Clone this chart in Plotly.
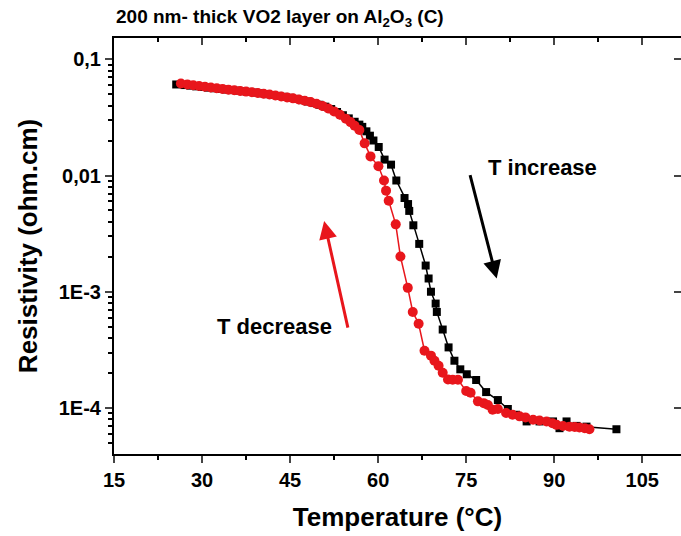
import plotly.graph_objects as go

# T increase (black squares)
t_inc = [25.6, 27.0, 28.0, 29.0, 30.0, 31.0, 32.0, 33.0, 34.0, 35.0, 36.0, 37.0, 38.0, 39.0, 40.0,
         41.0, 42.0, 43.0, 44.0, 45.0, 46.0, 47.0, 48.0, 49.0, 50.0, 51.0, 52.0, 53.0, 54.0, 55.0,
         56.0, 56.8, 57.3, 58.0, 58.6, 59.2, 60.1, 61.1, 62.2, 63.1, 64.5, 65.1, 65.3, 66.0, 67.0,
         68.1, 68.6, 69.0, 69.8, 70.0, 71.0, 72.0, 73.0, 74.0, 75.1, 76.7, 78.4, 80.4, 82.1, 83.5,
         85.3, 87.5, 89.8, 90.9, 92.1, 93.8, 95.5, 100.6]
rho_inc = [0.0607, 0.0600, 0.0593, 0.0585, 0.0578, 0.0570, 0.0563, 0.0556, 0.0549, 0.0543, 0.0537,
           0.0531, 0.0524, 0.0517, 0.0510, 0.0501, 0.0493, 0.0484, 0.0475, 0.0466, 0.0456, 0.0445,
           0.0433, 0.0420, 0.0406, 0.0391, 0.0373, 0.0352, 0.0330, 0.0310, 0.0290, 0.0274, 0.0262,
           0.0240, 0.0220, 0.0200, 0.0176, 0.0137, 0.0124, 0.00906, 0.00640, 0.00568, 0.00496,
           0.00373, 0.00258, 0.00168, 0.00130, 0.00100, 0.000791, 0.000670, 0.000473, 0.000332,
           0.000255, 0.000215, 0.000195, 0.000174, 0.000137, 0.000117, 0.0000980, 0.0000874,
           0.0000766, 0.0000766, 0.0000766, 0.0000670, 0.0000766, 0.0000701, 0.0000691, 0.0000656]

# T decrease (red circles)
t_dec = [26.4, 27.5, 28.5, 29.5, 30.5, 31.5, 32.5, 33.5, 34.5, 35.5, 36.5, 37.5, 38.5, 39.5, 40.5,
         41.5, 42.5, 43.5, 44.5, 45.5, 46.5, 47.5, 48.5, 49.5, 50.5, 51.5, 52.5, 53.5, 54.5, 55.3,
         56.0, 56.8, 57.7, 58.7, 60.05, 61.0, 61.35, 61.8, 63.0, 63.8, 65.05, 65.9, 66.9, 67.9,
         69.0, 69.6, 70.3, 71.0, 71.9, 72.7, 73.6, 75.0, 75.75, 77.0, 78.0, 78.7, 79.5, 80.4, 81.8,
         82.9, 84.1, 85.1, 86.4, 87.5, 88.7, 89.7, 90.4, 91.5, 92.6, 93.5, 94.3, 95.2, 96.0]
rho_dec = [0.0618, 0.0608, 0.0598, 0.0589, 0.0580, 0.0572, 0.0564, 0.0556, 0.0548, 0.0541, 0.0534,
           0.0527, 0.0520, 0.0513, 0.0505, 0.0497, 0.0488, 0.0479, 0.0470, 0.0461, 0.0451, 0.0440,
           0.0428, 0.0414, 0.0397, 0.0378, 0.0356, 0.0333, 0.0308, 0.0288, 0.0268, 0.0246, 0.0189,
           0.0146, 0.0120, 0.00906, 0.00741, 0.00606, 0.00380, 0.00201, 0.00108, 0.000670, 0.000530,
           0.000311, 0.000282, 0.000255, 0.000231, 0.000201, 0.000176, 0.000175, 0.000175, 0.000140,
           0.000135, 0.000114, 0.000110, 0.000106, 0.0000966, 0.0000980, 0.0000905, 0.0000874,
           0.0000847, 0.0000830, 0.0000791, 0.0000780, 0.0000766, 0.0000740, 0.0000716, 0.0000700,
           0.0000691, 0.0000685, 0.0000680, 0.0000670, 0.0000656]

y_major_vals = [1e-4, 1e-3, 1e-2, 1e-1]
y_major_text = ["1E-4", "1E-3", "0,01", "0,1"]
x_major_vals = [15, 30, 45, 60, 75, 90, 105]

title_text = "200 nm- thick VO2 layer on Al<sub>2</sub>O<sub>3</sub> (C)"
x_title = "Temperature (°C)"
y_title = "Resistivity (ohm.cm)"

FONT = "Liberation Sans, Arial, sans-serif"
RED = "#e8161c"

y_minor_vals = [k * 10.0 ** e for e in range(-5, 0) for k in range(2, 10)]
x_minor_vals = [22.5, 37.5, 52.5, 67.5, 82.5, 97.5]

fig = go.Figure()
fig.add_trace(go.Scatter(x=t_inc, y=rho_inc, mode="lines+markers",
                         line=dict(color="black", width=1.5),
                         marker=dict(symbol="square", size=8, color="black"),
                         showlegend=False))
fig.add_trace(go.Scatter(x=t_dec, y=rho_dec, mode="lines+markers",
                         line=dict(color=RED, width=1.5),
                         marker=dict(symbol="circle", size=10, color=RED),
                         showlegend=False))
# invisible trace to host the mirrored top/right axes
fig.add_trace(go.Scatter(x=[None], y=[None], xaxis="x2", yaxis="y2", showlegend=False,
                         hoverinfo="skip"))

xr = [15, 111.6]
yr = [-4.396, -0.817]

fig.update_layout(
    width=681, height=536,
    margin=dict(l=114, r=0, t=38, b=82),
    paper_bgcolor="white", plot_bgcolor="white",
    font=dict(family=FONT, color="black"),
    xaxis=dict(range=xr, tickvals=x_major_vals, ticks="outside", ticklen=7, tickwidth=2,
               showline=True, linecolor="black", linewidth=2, showgrid=False, zeroline=False,
               tickfont=dict(size=20, weight="bold", family=FONT),
               minor=dict(tickvals=x_minor_vals, ticks="outside",
                          ticklen=4, tickwidth=2, tickcolor="black"),
               title=dict(text=x_title, font=dict(size=26, weight="bold", family=FONT), standoff=18)),
    yaxis=dict(type="log", range=yr, tickvals=y_major_vals, ticktext=y_major_text,
               ticks="outside", ticklen=7, tickwidth=2,
               showline=True, linecolor="black", linewidth=2, showgrid=False, zeroline=False,
               tickfont=dict(size=20, weight="bold", family=FONT),
               minor=dict(tickvals=y_minor_vals, ticks="outside", ticklen=4, tickwidth=1.5,
                          tickcolor="black"),
               title=dict(text=y_title, font=dict(size=26, weight="bold", family=FONT), standoff=14)),
    xaxis2=dict(range=xr, overlaying="x", side="top", anchor="y", tickvals=x_major_vals,
                ticks="inside", ticklen=7, tickwidth=2, showticklabels=False,
                showline=True, linecolor="black", linewidth=2, showgrid=False, zeroline=False,
                minor=dict(tickvals=x_minor_vals, ticks="inside",
                           ticklen=4, tickwidth=2, tickcolor="black")),
    yaxis2=dict(type="log", range=yr, overlaying="y", side="right", anchor="x",
                tickvals=y_major_vals, ticks="inside", ticklen=7, tickwidth=2,
                showticklabels=False, showline=True, linecolor="black", linewidth=2,
                showgrid=False, zeroline=False),
)

# title
fig.add_annotation(text="<b>" + title_text + "</b>", xref="paper", yref="paper", x=0, y=1,
                   xanchor="left", yanchor="bottom", yshift=6, xshift=0, showarrow=False,
                   font=dict(size=19, family=FONT, color="black"))

# arrows
fig.add_annotation(x=80.2, y=-2.887, ax=75.6, ay=-1.983, xref="x", yref="y", axref="x", ayref="y",
                   text="", showarrow=True, arrowhead=2, arrowsize=1.2, arrowwidth=3,
                   arrowcolor="black")
fig.add_annotation(x=50.8, y=-2.391, ax=54.9, ay=-3.322, xref="x", yref="y", axref="x", ayref="y",
                   text="", showarrow=True, arrowhead=2, arrowsize=1.2, arrowwidth=3,
                   arrowcolor=RED)
fig.add_annotation(x=88.0, y=-1.93, xref="x", yref="y", text="<b>T increase</b>", showarrow=False,
                   font=dict(size=22, family=FONT, color="black"))
fig.add_annotation(x=42.3, y=-3.30, xref="x", yref="y", text="<b>T decrease</b>", showarrow=False,
                   font=dict(size=22, family=FONT, color="black"))

fig.write_html("out.html")
